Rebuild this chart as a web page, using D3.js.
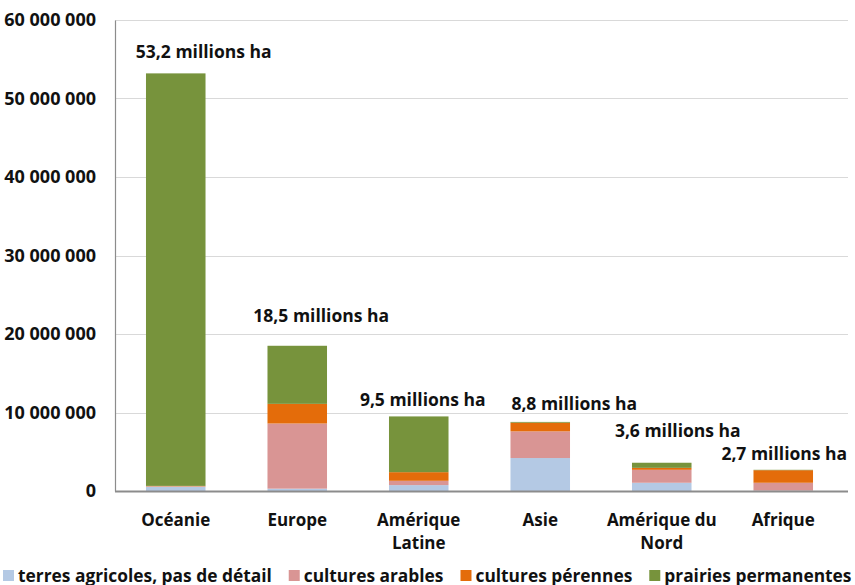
<!DOCTYPE html>
<html>
<head>
<meta charset="utf-8">
<script src="https://cdn.jsdelivr.net/npm/d3@7"></script>
<style>
  html, body { margin: 0; padding: 0; background: #fff; }
  svg text { font-family: "Open Sans", sans-serif; font-weight: 700; fill: #111; }
</style>
</head>
<body>
<svg id="chart" width="855" height="585"></svg>
<script>
// Surfaces en agriculture biologique par continent (ha)
const regions = ["Océanie", "Europe", "Amérique Latine", "Asie", "Amérique du Nord", "Afrique"];
const regionLines = [["Océanie"], ["Europe"], ["Amérique", "Latine"], ["Asie"], ["Amérique du", "Nord"], ["Afrique"]];
const seriesNames = ["terres agricoles, pas de détail", "cultures arables", "cultures pérennes", "prairies permanentes"];
const terresAgricoles = [550000, 300000, 750000, 4200000, 1050000, 50000];
const culturesArables = [50000, 8300000, 550000, 3400000, 1650000, 1000000];
const culturesPerennes = [50000, 2500000, 1100000, 1100000, 250000, 1600000];
const prairiesPermanentes = [52550000, 7400000, 7100000, 100000, 650000, 50000];
const totals = [53.2, 18.5, 9.5, 8.8, 3.6, 2.7];
const totalLabels = ["53,2 millions ha", "18,5 millions ha", "9,5 millions ha", "8,8 millions ha", "3,6 millions ha", "2,7 millions ha"];
const yTicks = [0, 10000000, 20000000, 30000000, 40000000, 50000000, 60000000];
const colors = ["#b4c9e4", "#d99594", "#e46c0a", "#77933c"];

// placement of the total labels relative to the bar centre / top (px)
const labelShift = [[28, -21], [24, -30], [4, -16], [34, -18], [16, -32], [1, -16]];

const svg = d3.select("#chart");
const margin = { left: 115, right: 11, top: 20, bottom: 94 };
const W = 855, H = 585;
const x = d3.scaleBand().domain(regions).range([margin.left, W - margin.right]).paddingInner(0.51).paddingOuter(0.255);
const y = d3.scaleLinear().domain([0, 60000000]).range([H - margin.bottom, margin.top]);

const fmt = v => d3.format(",")(v).replace(/,/g, " ");

// gridlines
svg.append("g").selectAll("line").data(yTicks.filter(t => t > 0)).join("line")
  .attr("x1", margin.left).attr("x2", W - 7)
  .attr("y1", d => Math.round(y(d)) + 0.5).attr("y2", d => Math.round(y(d)) + 0.5)
  .attr("stroke", "#d9d9d9").attr("stroke-width", 1);

// y axis
const yAxis = d3.axisLeft(y).tickValues(yTicks).tickFormat(fmt).tickSize(0).tickPadding(19);
const gy = svg.append("g").attr("transform", `translate(${margin.left},0)`).call(yAxis);
gy.select(".domain").attr("stroke", "#8c8c8c").attr("stroke-width", 1.2);
gy.selectAll("text").style("font-size", "18px").attr("fill", "#111");

// stacked bars
const rows = regions.map((r, i) => ({
  region: r,
  s0: terresAgricoles[i], s1: culturesArables[i], s2: culturesPerennes[i], s3: prairiesPermanentes[i]
}));
const stack = d3.stack().keys(["s0", "s1", "s2", "s3"])(rows);
svg.append("g").selectAll("g").data(stack).join("g")
  .attr("fill", (d, i) => colors[i])
  .selectAll("rect").data(d => d).join("rect")
  .attr("x", d => x(d.data.region))
  .attr("width", x.bandwidth())
  .attr("y", d => y(d[1]))
  .attr("height", d => y(d[0]) - y(d[1]));

// baseline
svg.append("line").attr("x1", margin.left).attr("x2", W - 7)
  .attr("y1", y(0) + 0.5).attr("y2", y(0) + 0.5)
  .attr("stroke", "#8c8c8c").attr("stroke-width", 2);

// x labels
const xl = svg.append("g").selectAll("text").data(regions).join("text")
  .attr("x", d => x(d) + x.bandwidth() / 2)
  .attr("y", 526)
  .attr("text-anchor", "middle")
  .style("font-size", "17px");
xl.selectAll("tspan").data((d, i) => regionLines[i]).join("tspan")
  .attr("x", function () { return d3.select(this.parentNode).attr("x"); })
  .attr("dy", (d, j) => j === 0 ? 0 : 23)
  .text(d => d);

// total labels
svg.append("g").selectAll("text").data(regions).join("text")
  .attr("x", (d, i) => x(d) + x.bandwidth() / 2 + labelShift[i][0])
  .attr("y", (d, i) => y(totals[i] * 1e6) + labelShift[i][1] + 6)
  .attr("text-anchor", "middle")
  .style("font-size", "17.5px")
  .text((d, i) => totalLabels[i]);

// legend: items laid out one after another, font shrunk to fit the width
const legendWidth = 849, gap = 17, swatch = 15;
const lg = svg.append("g").attr("transform", "translate(3,570)");
const items = seriesNames.map((name, i) => {
  const item = lg.append("g");
  item.append("rect").attr("width", 11).attr("height", 11).attr("fill", colors[i]);
  const t = item.append("text").attr("x", swatch).attr("y", 11.5).style("font-size", "17px").text(name);
  return { item, t };
});
const textTotal = d3.sum(items, d => d.t.node().getComputedTextLength());
const room = legendWidth - items.length * swatch - (items.length - 1) * gap;
const fs = Math.min(17.5, 17 * room / textTotal);
let cursor = 0;
items.forEach(({ item, t }) => {
  t.style("font-size", fs + "px");
  item.attr("transform", `translate(${cursor},0)`);
  cursor += swatch + t.node().getComputedTextLength() + gap;
});
</script>
</body>
</html>
